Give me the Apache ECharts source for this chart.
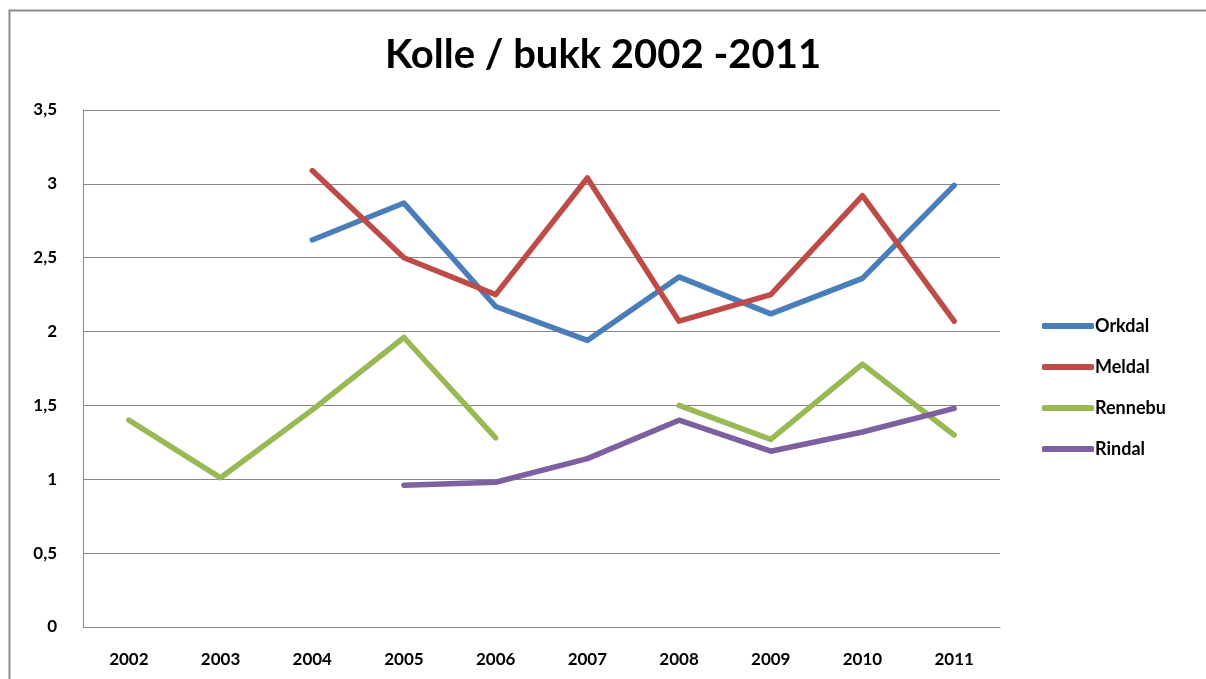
<!DOCTYPE html>
<html>
<head>
    <meta charset="utf-8">
    <title>Kolle / bukk</title>
    <script src="https://cdn.jsdelivr.net/npm/echarts@6/dist/echarts.min.js"></script>
    <style>
        html, body { margin: 0; padding: 0; background: #fff; }
    </style>
</head>
<body>
    <div id="main" style="width: 1206px;height:679px;"></div>
    <script type="text/javascript">
        // data
        var years = ['2002', '2003', '2004', '2005', '2006', '2007', '2008', '2009', '2010', '2011'];
        var orkdal = [null, null, 2.62, 2.87, 2.17, 1.94, 2.37, 2.12, 2.36, 2.99];
        var meldal = [null, null, 3.09, 2.50, 2.25, 3.04, 2.07, 2.25, 2.92, 2.07];
        var rennebu = [1.40, 1.01, 1.47, 1.96, 1.28, null, 1.50, 1.27, 1.78, 1.30];
        var rindal = [null, null, null, 0.96, 0.98, 1.14, 1.40, 1.19, 1.32, 1.48];

        var names = ['Orkdal', 'Meldal', 'Rennebu', 'Rindal'];
        var colors = ['#4a7ebb', '#be4b48', '#98b954', '#7d60a0'];
        var values = [orkdal, meldal, rennebu, rindal];

        var font = 'Lato, "Open Sans", sans-serif';

        var myChart = echarts.init(document.getElementById('main'));

        var series = names.map(function (n, i) {
            return {
                name: n,
                type: 'line',
                data: values[i],
                showSymbol: false,
                symbol: 'none',
                color: colors[i],
                lineStyle: { width: 5.5, color: colors[i], cap: 'round', join: 'round' },
                connectNulls: false
            };
        });

        var option = {
            animation: false,
            color: colors,
            // outer chart-area border, only the left and top edges are in the picture
            graphic: [{
                type: 'polyline',
                shape: { points: [[9.5, 700], [9.5, 10.5], [1300, 10.5]] },
                style: { fill: null, stroke: '#8c8c8c', lineWidth: 2 }
            }],
            title: {
                text: 'Kolle / bukk 2002 -2011',
                left: 'center',
                top: 30,
                textStyle: { fontFamily: font, fontWeight: 'bold', fontSize: 40, color: '#000' }
            },
            legend: {
                orient: 'vertical',
                left: 1037,
                top: 312,
                itemGap: 23,
                itemWidth: 52,
                itemHeight: 6,
                icon: 'roundRect',
                data: names,
                textStyle: { fontFamily: font, fontWeight: 'bold', fontSize: 18, color: '#000', padding: [0, 0, 0, -4] }
            },
            grid: { left: 83, right: 206, top: 110, bottom: 52 },
            xAxis: {
                type: 'category',
                data: years,
                boundaryGap: true,
                axisLine: { lineStyle: { color: '#868686', width: 1 } },
                axisTick: { show: false },
                axisLabel: { margin: 24, fontFamily: font, fontWeight: 'bold', fontSize: 17, color: '#000' }
            },
            yAxis: {
                type: 'value',
                min: 0,
                max: 3.5,
                interval: 0.5,
                axisLine: { show: true, lineStyle: { color: '#868686', width: 1 } },
                axisTick: { show: false },
                splitLine: { lineStyle: { color: '#868686', width: 1 } },
                axisLabel: {
                    margin: 26,
                    fontFamily: font, fontWeight: 'bold', fontSize: 17, color: '#000',
                    formatter: function (v) { return String(v).replace('.', ','); }
                }
            },
            series: series
        };

        myChart.setOption(option);
    </script>
</body>
</html>
